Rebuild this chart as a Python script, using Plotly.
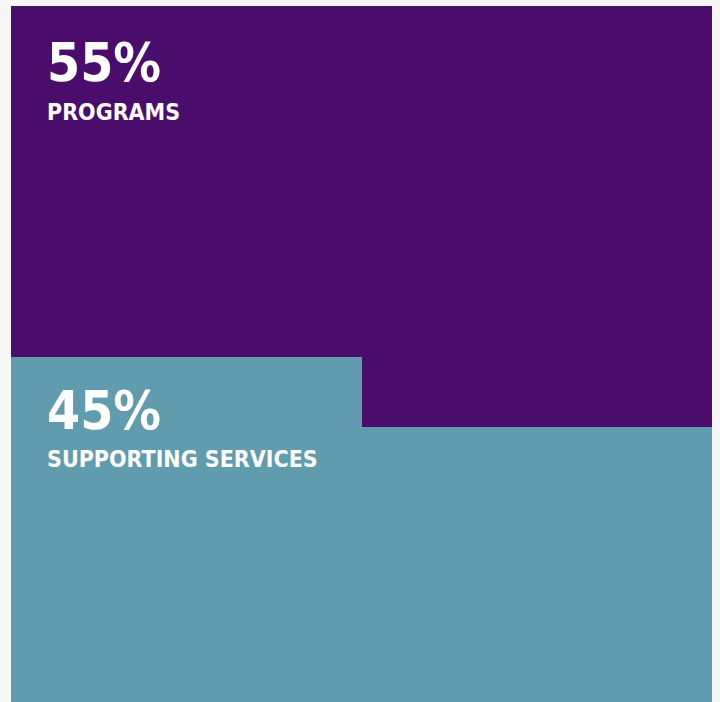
import plotly.graph_objects as go

categories = ["PROGRAMS", "SUPPORTING SERVICES"]
values = [55, 45]
labels = ["55%", "45%"]
colors = ["#4B0D6B", "#619CAE"]

n = 10
# z[row][col], row 0 = bottom; supporting services fill from bottom-left
z = [[0] * n for _ in range(n)]
teal = values[1]
for r in range(n):
    for c in range(n):
        k = r * n + c
        z[r][c] = 1 if k < teal else 0

fig = go.Figure(go.Heatmap(
    z=z,
    x=[i + 0.5 for i in range(n)],
    y=[i + 0.5 for i in range(n)],
    colorscale=[[0, colors[0]], [0.5, colors[0]], [0.5, colors[1]], [1, colors[1]]],
    zmin=0, zmax=1, showscale=False, hoverinfo="skip", xgap=0, ygap=0,
))

W, H = 720, 702
ml, mr, mt, mb = 11, 8, 6, 0
pw, ph = W - ml - mr, H - mt - mb

def px(x):
    return (x - ml) / pw

def py(y):
    return 1 - (y - mt) / ph

font_fam = "DejaVu Sans Condensed, DejaVu Sans, sans-serif"
ann = []
pos = [(63, 112), (410, 459)]
for (yb, ys), lab, cat in zip(pos, labels, categories):
    ann.append(dict(x=px(45), y=py(yb), xref="paper", yref="paper", text="<b>%s</b>" % lab,
                    showarrow=False, xanchor="left", yanchor="middle",
                    font=dict(family=font_fam, size=53, color="white")))
    ann.append(dict(x=px(45), y=py(ys), xref="paper", yref="paper", text="<b>%s</b>" % cat,
                    showarrow=False, xanchor="left", yanchor="middle",
                    font=dict(family=font_fam, size=23, color="white")))

fig.update_layout(
    width=W, height=H,
    margin=dict(l=ml, r=mr, t=mt, b=mb),
    paper_bgcolor="#F6F6F6", plot_bgcolor="#F6F6F6",
    xaxis=dict(range=[0, n], visible=False, fixedrange=True),
    yaxis=dict(range=[0.085, n], visible=False, fixedrange=True),
    annotations=ann,
    showlegend=False,
)
fig.write_html("out.html", config={"displayModeBar": False},
               post_script="document.body.style.margin='0';document.body.style.background='#F6F6F6';")
